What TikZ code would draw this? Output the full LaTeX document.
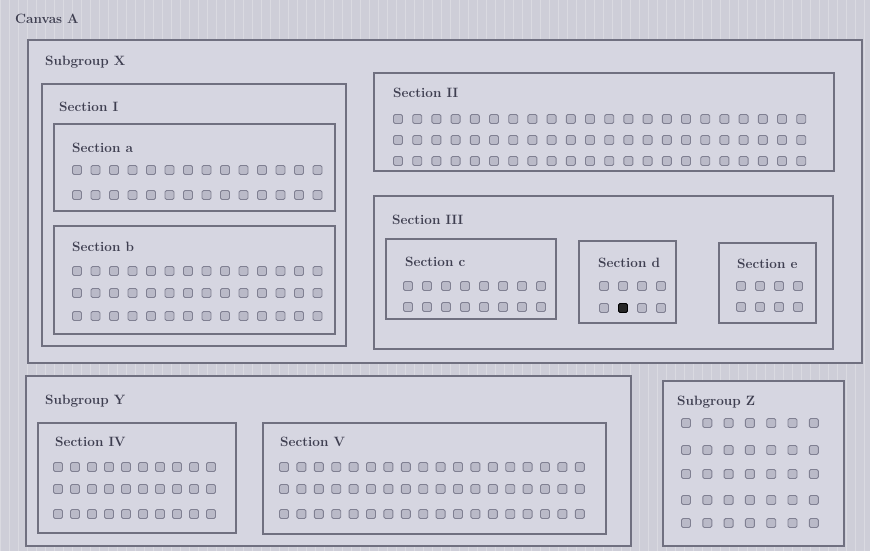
\documentclass[tikz,border=0pt]{standalone}
\usepackage{tikz}
\usetikzlibrary{positioning, calc}

\definecolor{bgc}{RGB}{206,206,216}
\definecolor{boxc}{RGB}{214,214,225}
\definecolor{edgec}{RGB}{112,112,128}
\definecolor{seatc}{RGB}{186,186,200}
\definecolor{seatedge}{RGB}{128,128,146}
\definecolor{txtc}{RGB}{62,62,80}

% one block of seats: first x, pitch, count, list of row y values
\newcommand{\seatrows}[4]{%
  \foreach \yy in {#4}{\foreach \cc in {1,...,#3}{%
    \filldraw[seat] ({#1+(\cc-1)*#2-4.5},{\yy-4.5}) rectangle ++(9,9);}}}

\begin{document}
\begin{tikzpicture}[
    x=1pt, y=-1pt,
    zone/.style={draw=edgec, line width=1.8pt, fill=boxc, anchor=north west,
                 inner sep=0pt},
    lbl/.style={anchor=west, inner sep=0pt, text=txtc,
                font=\fontsize{13.5}{15}\selectfont\bfseries},
    seat/.style={fill=seatc, draw=seatedge, line width=0.9pt, rounded corners=1.5pt}
]
\useasboundingbox (0,0) rectangle (870,551);
\fill[bgc] (0,0) rectangle (870,551);
\draw[white, opacity=0.25, step=9] (0,0) grid (870,551);

\node[lbl] (canvas) at (15,19) {Canvas A};

% Subgroup X
\node[zone, minimum width=834pt, minimum height=323pt] (grpX) at (27,39) {};
\node[lbl] (lblX) at ([xshift=18pt,yshift=-23pt]grpX.north west) {Subgroup X};

\node[zone, minimum width=304pt, minimum height=262pt] (secI) at (41,83) {};
\node[lbl] (lblI) at ([xshift=18pt,yshift=-24pt]secI.north west) {Section I};

\node[zone, minimum width=281pt, minimum height=87pt] (secA) at (53,123) {};
\node[lbl] (lblA) at ([xshift=19pt,yshift=-25pt]secA.north west) {Section a};
\seatrows{77}{18.5}{14}{170,195}

\node[zone, minimum width=281pt, minimum height=108pt] (secB) at (53,225) {};
\node[lbl] (lblB) at ([xshift=19pt,yshift=-22pt]secB.north west) {Section b};
\seatrows{77}{18.5}{14}{271,293,316}

\node[zone, minimum width=460pt, minimum height=98pt] (secII) at (373,72) {};
\node[lbl] (lblII) at ([xshift=20pt,yshift=-21pt]secII.north west) {Section II};
\seatrows{398}{19.2}{22}{119,140,161}

\node[zone, minimum width=459pt, minimum height=153pt] (secIII) at (373,195) {};
\node[lbl] (lblIII) at ([xshift=19pt,yshift=-25pt]secIII.north west) {Section III};

\node[zone, minimum width=170pt, minimum height=80pt] (secC) at (385,238) {};
\node[lbl] (lblC) at ([xshift=20pt,yshift=-24pt]secC.north west) {Section c};
\seatrows{408}{19}{8}{286,307}

\node[zone, minimum width=97pt, minimum height=82pt] (secD) at (578,240) {};
\node[lbl] (lblD) at ([xshift=20pt,yshift=-23pt]secD.north west) {Section d};
\seatrows{604}{19}{4}{286,308}
\filldraw[seat, fill=black!85, draw=black] (618.5,303.5) rectangle ++(9,9);

\node[zone, minimum width=97pt, minimum height=80pt] (secE) at (718,242) {};
\node[lbl] (lblE) at ([xshift=19pt,yshift=-22pt]secE.north west) {Section e};
\seatrows{741}{19}{4}{286,307}

% Subgroup Y
\node[zone, minimum width=605pt, minimum height=170pt] (grpY) at (25,375) {};
\node[lbl] (lblY) at ([xshift=20pt,yshift=-26pt]grpY.north west) {Subgroup Y};

\node[zone, minimum width=198pt, minimum height=110pt] (secIV) at (37,422) {};
\node[lbl] (lblIV) at ([xshift=18pt,yshift=-20pt]secIV.north west) {Section IV};
\seatrows{58}{17}{10}{467,489,514}

\node[zone, minimum width=343pt, minimum height=111pt] (secV) at (262,422) {};
\node[lbl] (lblV) at ([xshift=18pt,yshift=-20pt]secV.north west) {Section V};
\seatrows{284}{17.4}{18}{467,489,514}

% Subgroup Z
\node[zone, minimum width=181pt, minimum height=165pt] (grpZ) at (662,380) {};
\node[lbl] (lblZ) at ([xshift=15pt,yshift=-22pt]grpZ.north west) {Subgroup Z};
\seatrows{686}{21.3}{7}{423,450,474,500,523}
\end{tikzpicture}
\end{document}
